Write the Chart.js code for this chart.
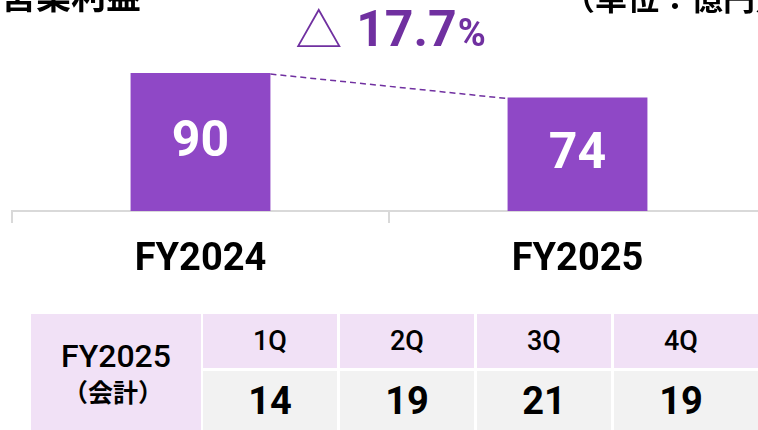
<!DOCTYPE html>
<html>
<head>
<meta charset="utf-8">
<script src="https://cdn.jsdelivr.net/npm/chart.js@4"></script>
<style>
  html, body { margin: 0; padding: 0; background: #fff; overflow: hidden; width: 758px; height: 430px; }
  #wrap { position: absolute; left: 0; top: 0; width: 780px; height: 300px; }
  .abs { position: absolute; white-space: nowrap; }
  .cjk { font-family: "Noto Sans CJK JP", sans-serif; font-weight: 700; color: #000; }
  .cell { position: absolute; display: flex; align-items: center; justify-content: center; box-sizing: border-box; font-family: Roboto, "Noto Sans CJK JP", sans-serif; color: #000; }
</style>
</head>
<body>
<div id="wrap"><canvas id="c" width="780" height="300"></canvas></div>
<div id="overlay"></div>
<script>
// ---- data ----
const titleText = '営業利益';
const unitText = '（単位：億円）';
const categories = ['FY2024', 'FY2025'];
const profitValues = [90, 74];
const changeSymbol = '△';
const changeNumber = '17.7';
const changeUnit = '%';
const tableRowTitle = ['FY2025', '（会計）'];
const quarterLabels = ['1Q', '2Q', '3Q', '4Q'];
const quarterValues = [14, 19, 21, 19];

// ---- styles ----
const BAR_COLOR = '#8F48C6';
const ACCENT = '#7030A0';
const AXIS_COLOR = '#D9D9D9';
const PINK = '#F1E1F6';
const GRAY = '#F2F2F2';

// overlay: title texts and table
const ov = document.getElementById('overlay');
function addEl(cls, style, html) {
  const d = document.createElement('div');
  d.className = cls;
  Object.assign(d.style, style);
  d.innerHTML = html;
  ov.appendChild(d);
  return d;
}
addEl('abs cjk', { left: '1px', top: '-26px', fontSize: '35px', lineHeight: '40px' }, titleText);
addEl('abs cjk', { left: '563px', top: '-23px', fontSize: '32px', lineHeight: '38px' }, unitText);

// table
addEl('cell', { left: '31px', top: '314px', width: '170px', height: '120px', background: PINK, flexDirection: 'column', paddingBottom: '4px' },
  '<div style="font-size:32px;font-weight:500;line-height:38px">' + tableRowTitle[0] + '</div>' +
  '<div style="font-family:\'Noto Sans CJK JP\';font-size:25px;font-weight:700;line-height:32px;margin-left:-6px">' + tableRowTitle[1] + '</div>');
const colLeft = [203, 340, 477, 614];
quarterLabels.forEach((q, i) => {
  const last = i === quarterLabels.length - 1;
  addEl('cell', { left: colLeft[i] + 'px', top: '314px', width: (last ? 154 : 134) + 'px', paddingRight: (last ? 20 : 0) + 'px', height: '54px', background: PINK, fontSize: '27px', fontWeight: '500' }, q);
  addEl('cell', { left: colLeft[i] + 'px', top: '371px', width: (last ? 154 : 134) + 'px', paddingRight: (last ? 20 : 0) + 'px', height: '62px', background: GRAY, fontSize: '38px', fontWeight: '700', paddingBottom: '3px' }, String(quarterValues[i]));
});

// plugin: values inside bars, dashed connector, change label
const decorPlugin = {
  id: 'decor',
  afterDatasetsDraw(chart) {
    const ctx = chart.ctx;
    const bars = chart.getDatasetMeta(0).data;
    ctx.save();
    // dashed connector
    if (bars.length >= 2) {
      const a = bars[0], b = bars[1];
      ctx.strokeStyle = ACCENT;
      ctx.lineWidth = 1.5;
      ctx.setLineDash([6, 4]);
      ctx.beginPath();
      ctx.moveTo(a.x + a.width / 2, a.y + 1);
      ctx.lineTo(b.x - b.width / 2, b.y + 1);
      ctx.stroke();
      ctx.setLineDash([]);
    }
    // values
    ctx.fillStyle = '#FFFFFF';
    ctx.font = 'bold 50px Roboto';
    ctx.textAlign = 'center';
    ctx.textBaseline = 'middle';
    bars.forEach((bar, i) => {
      ctx.fillText(String(profitValues[i]), bar.x, (bar.y + bar.base) / 2 + 1);
    });
    // change label
    if (bars.length >= 2) {
      const cx = (bars[0].x + bars[1].x) / 2 + 1;
      const baseY = 46;
      ctx.textAlign = 'left';
      ctx.textBaseline = 'alphabetic';
      ctx.fillStyle = ACCENT;
      ctx.font = '400 47px "Noto Sans CJK JP"';
      const w1 = ctx.measureText(changeSymbol).width;
      ctx.font = 'bold 50px Roboto';
      const w2 = ctx.measureText(changeNumber).width;
      ctx.font = 'bold 38px Roboto';
      const w3 = ctx.measureText(changeUnit).width;
      const gap = 14;
      let x = cx - (w1 + gap + w2 + w3) / 2;
      ctx.font = '400 47px "Noto Sans CJK JP"';
      ctx.fillText(changeSymbol, x, baseY + 1);
      x += w1 + gap;
      ctx.font = 'bold 50px Roboto';
      ctx.fillText(changeNumber, x, baseY);
      x += w2 + 1;
      ctx.font = 'bold 38px Roboto';
      ctx.fillText(changeUnit, x, baseY);
    }
    ctx.restore();
  }
};

new Chart(document.getElementById('c'), {
  type: 'bar',
  data: {
    labels: categories,
    datasets: [{
      data: profitValues,
      backgroundColor: BAR_COLOR,
      borderWidth: 0,
      barPercentage: 0.371,
      categoryPercentage: 1.0
    }]
  },
  options: {
    responsive: false,
    animation: false,
    devicePixelRatio: 1,
    layout: { padding: { left: 12, right: 14, top: 60, bottom: 0 } },
    plugins: { legend: { display: false }, tooltip: { enabled: false } },
    scales: {
      x: {
        offset: true,
        grid: { display: true, offset: true, drawOnChartArea: false, drawTicks: true, tickLength: 12, color: AXIS_COLOR, lineWidth: 2 },
        border: { display: true, color: AXIS_COLOR, width: 2 },
        ticks: { color: '#000', font: { family: 'Roboto', size: 38, weight: 'bold' }, padding: 15, maxRotation: 0 },
        afterFit(scale) { scale.height = 89; }
      },
      y: {
        display: false,
        min: 0,
        max: 98.5
      }
    }
  },
  plugins: [decorPlugin]
});
</script>
</body>
</html>
